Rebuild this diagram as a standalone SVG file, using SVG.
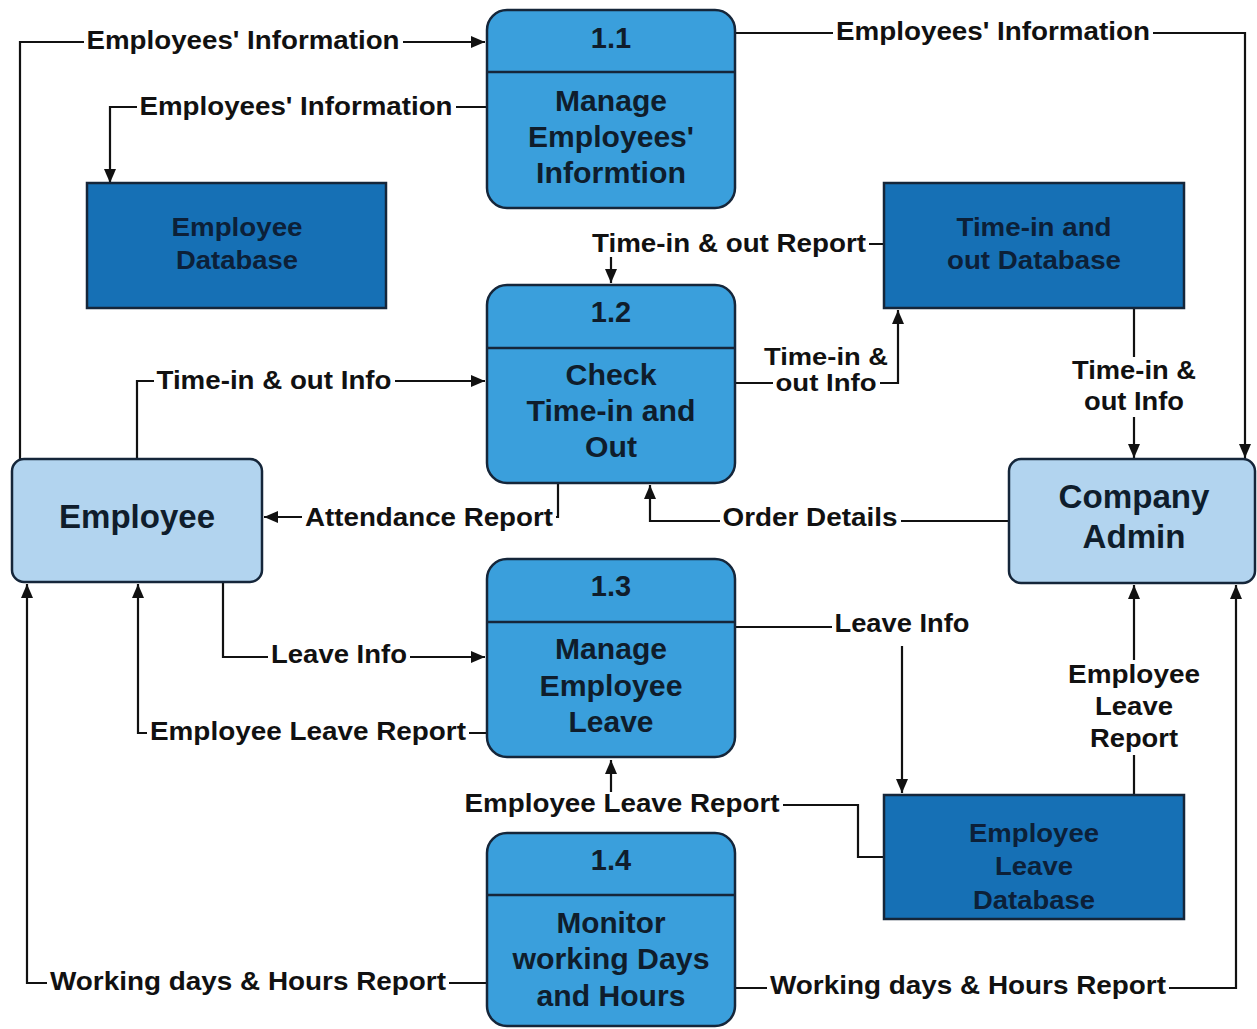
<svg xmlns="http://www.w3.org/2000/svg" width="1257" height="1029" viewBox="0 0 1257 1029">
<style>
.proc{fill:#3a9fdc;stroke:#15263a;stroke-width:2.5}
.div{stroke:#15263a;stroke-width:2.5}
.ent{fill:#b2d4ef;stroke:#15263a;stroke-width:2.5}
.db{fill:#1670b5;stroke:#15263a;stroke-width:2.5}
.pt{font-family:"Liberation Sans",Arial,sans-serif;font-weight:bold;font-size:29px;fill:#0f1d2c;text-anchor:middle}
.et{font-family:"Liberation Sans",Arial,sans-serif;font-weight:bold;font-size:33px;fill:#0f1d2c;text-anchor:middle}
.dt{font-family:"Liberation Sans",Arial,sans-serif;font-weight:bold;font-size:26px;fill:#0c2038;text-anchor:middle}
.lb{font-family:"Liberation Sans",Arial,sans-serif;font-weight:bold;font-size:26px;fill:#111;text-anchor:middle}
.lbs{font-family:"Liberation Sans",Arial,sans-serif;font-weight:bold;font-size:24px;fill:#111;text-anchor:middle}
.bg{fill:#fff}
.ln{fill:none;stroke:#111;stroke-width:2.2;marker-end:url(#ah)}
</style>
<defs>
<marker id="ah" viewBox="0 0 14 12" refX="14" refY="6" markerWidth="14" markerHeight="12" orient="auto" markerUnits="userSpaceOnUse"><path d="M0,0 L14,6 L0,12 z" fill="#111"/></marker>
</defs>
<rect width="1257" height="1029" fill="#fff"/>
<g id="connectors">
<path class="ln" d="M20,459 V42 H485"/>
<path class="ln" d="M487,107 H110 V183"/>
<path class="ln" d="M735,33 H1245 V458"/>
<path class="ln" d="M884,244 H611 V283"/>
<path class="ln" d="M137,459 V381 H485"/>
<path class="ln" d="M735,383 H898 V310"/>
<path class="ln" d="M1134,308 V458"/>
<path class="ln" d="M558,483 V517 H264"/>
<path class="ln" d="M1009,521 H650 V485"/>
<path class="ln" d="M223,582 V657 H485"/>
<path class="ln" d="M487,733 H138 V584"/>
<path class="ln" d="M735,627 H902 V793"/>
<path class="ln" d="M884,857 H858 V805 H611 V760"/>
<path class="ln" d="M1134,795 V585"/>
<path class="ln" d="M487,983 H27 V584"/>
<path class="ln" d="M735,988 H1236 V585"/>
<rect class="bg" x="84" y="29" width="319" height="25"/>
<rect class="bg" x="137" y="95" width="319" height="25"/>
<rect class="bg" x="833" y="20" width="320" height="25"/>
<rect class="bg" x="589" y="232" width="280" height="25"/>
<rect class="bg" x="154" y="369" width="241" height="25"/>
<rect class="bg" x="761" y="347" width="130" height="21"/>
<rect class="bg" x="773" y="371" width="107" height="24"/>
<rect class="bg" x="1069" y="357" width="130" height="60"/>
<rect class="bg" x="302" y="506" width="254" height="25"/>
<rect class="bg" x="720" y="506" width="181" height="25"/>
<rect class="bg" x="268" y="643" width="142" height="25"/>
<rect class="bg" x="147" y="720" width="322" height="25"/>
<rect class="bg" x="832" y="610" width="141" height="36"/>
<rect class="bg" x="462" y="792" width="321" height="25"/>
<rect class="bg" x="1065" y="660" width="138" height="95"/>
<rect class="bg" x="47" y="970" width="402" height="25"/>
<rect class="bg" x="767" y="974" width="402" height="25"/>
<text class="lb" x="243" y="49" textLength="313" lengthAdjust="spacingAndGlyphs">Employees' Information</text>
<text class="lb" x="296" y="115" textLength="313" lengthAdjust="spacingAndGlyphs">Employees' Information</text>
<text class="lb" x="993" y="40" textLength="314" lengthAdjust="spacingAndGlyphs">Employees' Information</text>
<text class="lb" x="729" y="252" textLength="274" lengthAdjust="spacingAndGlyphs">Time-in &amp; out Report</text>
<text class="lb" x="274" y="389" textLength="235" lengthAdjust="spacingAndGlyphs">Time-in &amp; out Info</text>
<text class="lbs" x="826" y="365" textLength="124" lengthAdjust="spacingAndGlyphs">Time-in &amp;</text>
<text class="lbs" x="826" y="391" textLength="101" lengthAdjust="spacingAndGlyphs">out Info</text>
<text class="lb" x="1134" y="379" textLength="124" lengthAdjust="spacingAndGlyphs">Time-in &amp;</text>
<text class="lb" x="1134" y="410" textLength="100" lengthAdjust="spacingAndGlyphs">out Info</text>
<text class="lb" x="429" y="526" textLength="248" lengthAdjust="spacingAndGlyphs">Attendance Report</text>
<text class="lb" x="810" y="526" textLength="175" lengthAdjust="spacingAndGlyphs">Order Details</text>
<text class="lb" x="339" y="663" textLength="136" lengthAdjust="spacingAndGlyphs">Leave Info</text>
<text class="lb" x="308" y="740" textLength="316" lengthAdjust="spacingAndGlyphs">Employee Leave Report</text>
<text class="lb" x="902" y="632" textLength="135" lengthAdjust="spacingAndGlyphs">Leave Info</text>
<text class="lb" x="622" y="812" textLength="315" lengthAdjust="spacingAndGlyphs">Employee Leave Report</text>
<text class="lb" x="1134" y="683" textLength="132" lengthAdjust="spacingAndGlyphs">Employee</text>
<text class="lb" x="1134" y="715" textLength="78" lengthAdjust="spacingAndGlyphs">Leave</text>
<text class="lb" x="1134" y="747" textLength="88" lengthAdjust="spacingAndGlyphs">Report</text>
<text class="lb" x="248" y="990" textLength="396" lengthAdjust="spacingAndGlyphs">Working days &amp; Hours Report</text>
<text class="lb" x="968" y="994" textLength="396" lengthAdjust="spacingAndGlyphs">Working days &amp; Hours Report</text>
</g>
<g id="p11">
<rect class="proc" x="487" y="10" width="248" height="198" rx="20"/>
<line class="div" x1="487" y1="72" x2="735" y2="72"/>
<text class="pt" x="611" y="48">1.1</text>
<text class="pt" x="611" y="111" textLength="112" lengthAdjust="spacingAndGlyphs">Manage</text>
<text class="pt" x="611" y="147" textLength="166" lengthAdjust="spacingAndGlyphs">Employees'</text>
<text class="pt" x="611" y="183" textLength="150" lengthAdjust="spacingAndGlyphs">Informtion</text>
</g>
<g id="p12">
<rect class="proc" x="487" y="285" width="248" height="198" rx="20"/>
<line class="div" x1="487" y1="348" x2="735" y2="348"/>
<text class="pt" x="611" y="322">1.2</text>
<text class="pt" x="611" y="385" textLength="91" lengthAdjust="spacingAndGlyphs">Check</text>
<text class="pt" x="611" y="421" textLength="169" lengthAdjust="spacingAndGlyphs">Time-in and</text>
<text class="pt" x="611" y="457" textLength="52" lengthAdjust="spacingAndGlyphs">Out</text>
</g>
<g id="p13">
<rect class="proc" x="487" y="559" width="248" height="198" rx="20"/>
<line class="div" x1="487" y1="622" x2="735" y2="622"/>
<text class="pt" x="611" y="596">1.3</text>
<text class="pt" x="611" y="659" textLength="112" lengthAdjust="spacingAndGlyphs">Manage</text>
<text class="pt" x="611" y="696" textLength="143" lengthAdjust="spacingAndGlyphs">Employee</text>
<text class="pt" x="611" y="732" textLength="85" lengthAdjust="spacingAndGlyphs">Leave</text>
</g>
<g id="p14">
<rect class="proc" x="487" y="833" width="248" height="193" rx="20"/>
<line class="div" x1="487" y1="895" x2="735" y2="895"/>
<text class="pt" x="611" y="870">1.4</text>
<text class="pt" x="611" y="933" textLength="109" lengthAdjust="spacingAndGlyphs">Monitor</text>
<text class="pt" x="611" y="969" textLength="197" lengthAdjust="spacingAndGlyphs">working Days</text>
<text class="pt" x="611" y="1006" textLength="149" lengthAdjust="spacingAndGlyphs">and Hours</text>
</g>
<g id="employee">
<rect class="ent" x="12" y="459" width="250" height="123" rx="12"/>
<text class="et" x="137" y="528" textLength="156" lengthAdjust="spacingAndGlyphs">Employee</text>
</g>
<g id="admin">
<rect class="ent" x="1009" y="459" width="246" height="124" rx="12"/>
<text class="et" x="1134" y="508" textLength="151" lengthAdjust="spacingAndGlyphs">Company</text>
<text class="et" x="1134" y="548" textLength="103" lengthAdjust="spacingAndGlyphs">Admin</text>
</g>
<g id="empdb">
<rect class="db" x="87" y="183" width="299" height="125"/>
<text class="dt" x="237" y="236" textLength="131" lengthAdjust="spacingAndGlyphs">Employee</text>
<text class="dt" x="237" y="269" textLength="122" lengthAdjust="spacingAndGlyphs">Database</text>
</g>
<g id="timedb">
<rect class="db" x="884" y="183" width="300" height="125"/>
<text class="dt" x="1034" y="236" textLength="155" lengthAdjust="spacingAndGlyphs">Time-in and</text>
<text class="dt" x="1034" y="269" textLength="174" lengthAdjust="spacingAndGlyphs">out Database</text>
</g>
<g id="leavedb">
<rect class="db" x="884" y="795" width="300" height="124"/>
<text class="dt" x="1034" y="842" textLength="130" lengthAdjust="spacingAndGlyphs">Employee</text>
<text class="dt" x="1034" y="875" textLength="78" lengthAdjust="spacingAndGlyphs">Leave</text>
<text class="dt" x="1034" y="909" textLength="122" lengthAdjust="spacingAndGlyphs">Database</text>
</g>
</svg>
